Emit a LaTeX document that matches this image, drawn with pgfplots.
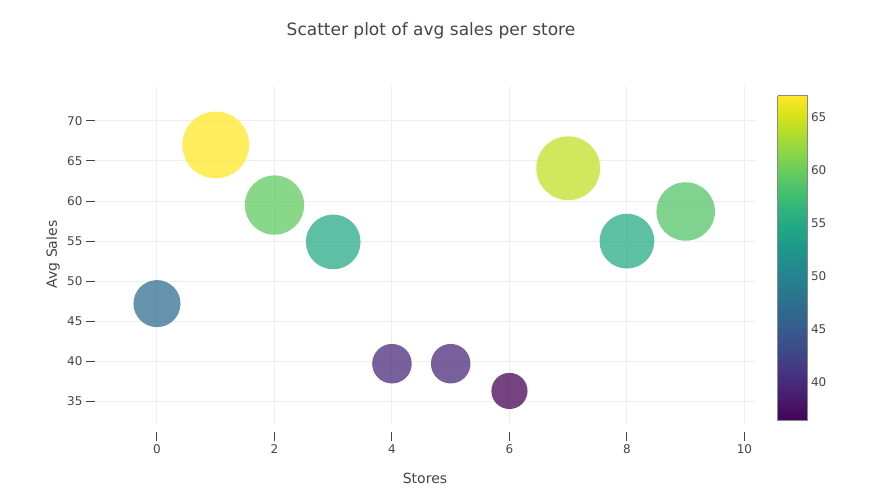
\documentclass[border=0pt]{standalone}
\usepackage{pgfplots}
\pgfplotsset{compat=1.18}
\usepackage{fontspec}
\setmainfont{DejaVu Sans}
\definecolor{textc}{HTML}{444444}
\definecolor{gridc}{HTML}{EEEEEE}
\definecolor{barborder}{HTML}{888888}

\pgfplotstableread{
x y
0 47.2
1 67.0
2 59.5
3 54.9
4 39.7
5 39.7
6 36.3
7 64.1
8 55.0
9 58.7
}\sales

\begin{document}
\begin{tikzpicture}
\path[use as bounding box] (0,0) rectangle (894bp,494bp);
\node[font=\fontsize{17bp}{20bp}\selectfont, text=textc] at (431bp,463bp) {Scatter plot of avg sales per store};
\begin{axis}[
    at={(95bp,71bp)}, anchor=south west,
    scale only axis, width=660bp, height=337bp,
    xmin=-1.055, xmax=10.18, ymin=32.3, ymax=74.36,
    xtick={0,2,...,10}, ytick={35,40,...,70},
    xtick pos=lower, ytick pos=left,
    grid=major, grid style={gridc, line width=1bp},
    axis line style={draw=none},
    tick align=outside, major tick length=9bp,
    tick style={textc, line width=1bp},
    xtick style={yshift=-9bp},
    xticklabel style={yshift=-9bp},
    ticklabel style={font=\fontsize{12bp}{14bp}\selectfont, text=textc},
    /pgf/number format/assume math mode=true,
    xlabel={Stores}, ylabel={Avg Sales},
    label style={font=\fontsize{14bp}{17bp}\selectfont, text=textc},
    xlabel style={at={(axis description cs:0.5,-0.163)}, anchor=center},
    ylabel style={at={(axis description cs:-0.0636,0.5)}, anchor=center},
    colormap/viridis,
    point meta min=36.3, point meta max=67,
    colorbar sampled,
    colorbar style={
        at={(parent axis.south east)}, anchor=south west,
        xshift=14bp, yshift=2bp,
        scale only axis, width=30bp, height=325bp,
        samples=150,
        ytick={40,45,...,65},
        major tick length=0pt,
        axis line style={barborder, line width=1bp},
        yticklabel style={font=\fontsize{12bp}{14bp}\selectfont, text=textc},
        /pgf/number format/assume math mode=true,
    },
]
\addplot[scatter, only marks, mark=*, point meta=y,
    scatter/use mapped color={draw=mapped color, fill=mapped color},
    mark options={fill opacity=0.74, draw opacity=0},
    visualization depends on={y \as \rad},
    scatter/@pre marker code/.append style={/tikz/mark size=\rad/2}
] table[x=x, y=y] {\sales};
\end{axis}
\end{tikzpicture}
\end{document}
